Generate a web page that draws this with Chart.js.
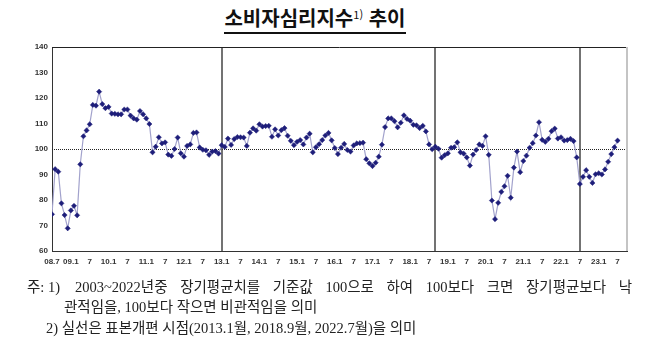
<!DOCTYPE html>
<html lang="ko">
<head>
<meta charset="utf-8">
<script src="https://cdn.jsdelivr.net/npm/chart.js@4.4.0/dist/chart.umd.min.js"></script>
<style>
  html, body { margin: 0; padding: 0; background: #fff; }
  #wrap { position: relative; width: 658px; height: 343px; overflow: hidden; }
  #cssiChart { position: absolute; left: 0; top: 0; }
  .title { position: absolute; top: 5px; left: 0; width: 630px; text-align: center; }
  .title span {
    display: inline-block;
    font: bold 20px "Noto Sans CJK KR", sans-serif;
    color: #111;
    border-bottom: 2px solid #111;
    line-height: 26px;
    padding-bottom: 1px;
  }
  .title sup { font-size: 11px; font-weight: normal; vertical-align: 7px; line-height: 0; }
  .note {
    position: absolute;
    font: 14.5px "Liberation Serif", "Noto Sans CJK KR", serif;
    color: #222;
    white-space: nowrap;
  }
</style>
</head>
<body>
<div id="wrap">
  <div class="title"><span>소비자심리지수<sup>1)</sup> 추이</span></div>
  <canvas id="cssiChart" width="658" height="343"></canvas>
  <div class="note" style="left:27px; top:275px;">주: 1)</div>
  <div class="note" id="noteFill" style="left:75px; top:275px;">2003~2022년중 장기평균치를 기준값 100으로 하여 100보다 크면 장기평균보다 낙</div>
  <div class="note" style="left:64px; top:295px;">관적임을, 100보다 작으면 비관적임을 의미</div>
  <div class="note" style="left:46px; top:316px;">2) 실선은 표본개편 시점(2013.1월, 2018.9월, 2022.7월)을 의미</div>
</div>
<script>
  // monthly index, 2008.7 ~ 2023.7
  const cssi = [
    74.4, 92.1, 91.1, 78.7, 74.1, 68.9,                 // 08.7 - 08.12
    75.9, 77.7, 74.0, 94.0, 105.0, 107.3, 109.7, 117.3, 117.0, 122.5, 117.6, 116.0, // 09
    116.5, 113.9, 113.8, 113.6, 113.6, 115.5, 115.5, 113.1, 112.0, 111.5, 114.9, 113.6, // 10
    112.0, 109.8, 98.7, 100.9, 104.6, 102.2, 102.6, 97.8, 97.3, 100.0, 104.5, 98.3, // 11
    97.0, 101.2, 101.8, 106.3, 106.5, 100.6, 99.7, 99.5, 97.7, 99.0, 99.2, 98.2,   // 12
    101.5, 100.8, 104.1, 101.6, 103.9, 104.7, 104.6, 104.5, 101.2, 106.4, 108.1, 107.2, // 13
    109.7, 108.8, 109.0, 109.1, 104.8, 107.7, 105.3, 107.4, 108.2, 105.2, 103.2, 101.5, // 14
    102.8, 103.5, 101.8, 104.5, 106.0, 98.7, 100.7, 101.9, 103.5, 105.3, 106.3, 103.4, // 15
    100.4, 98.0, 100.5, 102.0, 99.6, 99.0, 101.4, 102.2, 102.3, 102.5, 96.0, 94.4,  // 16
    93.3, 94.6, 97.0, 101.7, 108.6, 112.0, 112.0, 110.9, 108.5, 110.3, 113.2, 111.8, // 17
    111.1, 109.5, 109.3, 108.2, 109.1, 106.9, 101.8, 99.9, 100.9, 100.1, 96.6, 97.6, // 18
    98.3, 100.5, 100.7, 102.6, 98.7, 98.2, 96.7, 93.5, 97.8, 99.6, 101.8, 101.2,   // 19
    105.0, 97.7, 79.8, 72.5, 78.9, 83.2, 85.4, 89.5, 80.9, 92.7, 99.0, 90.9,       // 20
    95.3, 97.4, 100.5, 102.3, 105.3, 110.5, 103.6, 102.8, 104.0, 107.0, 108.0, 104.1, // 21
    104.6, 103.3, 103.5, 104.0, 103.1, 96.7, 86.3, 89.1, 91.7, 89.1, 86.7, 90.1,   // 22
    90.5, 90.0, 92.0, 95.0, 98.0, 100.7, 103.3                                     // 23.1 - 23.7
  ];

  // one label every 6 months
  const tickLabels = [
    '08.7', '09.1', '7', '10.1', '7', '11.1', '7', '12.1', '7', '13.1', '7',
    '14.1', '7', '15.1', '7', '16.1', '7', '17.1', '7', '18.1', '7',
    '19.1', '7', '20.1', '7', '21.1', '7', '22.1', '7', '23.1', '7'
  ];

  // sample revisions: 2013.1, 2018.9, 2022.7 (months since 2008.7)
  const revisions = [54, 122, 168];
  const baseLine = 100;

  // first footnote line runs to the right margin
  const fill = document.getElementById('noteFill');
  const gaps = fill.textContent.split(' ').length - 1;
  fill.style.wordSpacing = ((632 - 75 - fill.getBoundingClientRect().width) / gaps) + 'px';

  const framePlugin = {
    id: 'frame',
    beforeDatasetsDraw(chart) {
      const { ctx, chartArea: a, scales: { x, y } } = chart;
      ctx.save();

      // long-term average line
      const yb = Math.round(y.getPixelForValue(baseLine)) + 0.5;
      ctx.strokeStyle = '#222';
      ctx.lineWidth = 1;
      ctx.setLineDash([1, 1]);
      ctx.beginPath();
      ctx.moveTo(a.left, yb);
      ctx.lineTo(a.right, yb);
      ctx.stroke();
      ctx.setLineDash([]);

      ctx.strokeStyle = '#444';
      ctx.lineWidth = 1.5;
      revisions.forEach(m => {
        const px = Math.round(x.getPixelForValue(m));
        ctx.beginPath();
        ctx.moveTo(px, a.top);
        ctx.lineTo(px, a.bottom);
        ctx.stroke();
      });

      // top and right edges of the frame
      ctx.strokeStyle = '#222';
      ctx.lineWidth = 1;
      ctx.beginPath();
      ctx.moveTo(a.left, Math.round(a.top) + 0.5);
      ctx.lineTo(a.right, Math.round(a.top) + 0.5);
      ctx.stroke();
      ctx.strokeStyle = '#c4c4c4';
      ctx.lineWidth = 2;
      ctx.beginPath();
      ctx.moveTo(a.right, a.top);
      ctx.lineTo(a.right, a.bottom);
      ctx.stroke();
      ctx.restore();
    }
  };

  const tickFont = { family: '"Liberation Sans", Arial, sans-serif', size: 8, weight: 'bold' };

  new Chart(document.getElementById('cssiChart'), {
    type: 'line',
    data: {
      datasets: [{
        label: '소비자심리지수',
        data: cssi.map((v, i) => ({ x: i, y: v })),
        borderColor: '#a2a2cc',
        borderWidth: 1.2,
        pointStyle: 'rectRot',
        pointRadius: 2.6,
        pointBackgroundColor: '#1e1e7a',
        pointBorderColor: '#1e1e7a',
        pointBorderWidth: 0.5,
        tension: 0
      }]
    },
    options: {
      responsive: false,
      animation: false,
      devicePixelRatio: 1,
      layout: {
        padding: { top: 47, right: 31, left: 0, bottom: 72 }
      },
      plugins: {
        legend: { display: false },
        tooltip: { enabled: false }
      },
      scales: {
        x: {
          type: 'linear',
          min: 0,
          max: 183,
          grid: { display: false, drawTicks: false },
          border: { display: true, color: '#333', width: 1 },
          afterBuildTicks: s => {
            s.ticks = tickLabels.map((_, i) => ({ value: i * 6 }));
          },
          ticks: {
            autoSkip: false,
            maxRotation: 0,
            padding: 6,
            color: '#333',
            font: tickFont,
            callback: v => tickLabels[v / 6] || ''
          },
          afterFit: s => { s.height = 20; }
        },
        y: {
          min: 60,
          max: 140,
          grid: { display: false, drawTicks: false },
          border: { display: true, color: '#333', width: 1 },
          ticks: {
            stepSize: 10,
            padding: 4,
            color: '#333',
            font: tickFont
          },
          afterFit: s => { s.width = 52; }
        }
      }
    },
    plugins: [framePlugin]
  });
</script>
</body>
</html>
